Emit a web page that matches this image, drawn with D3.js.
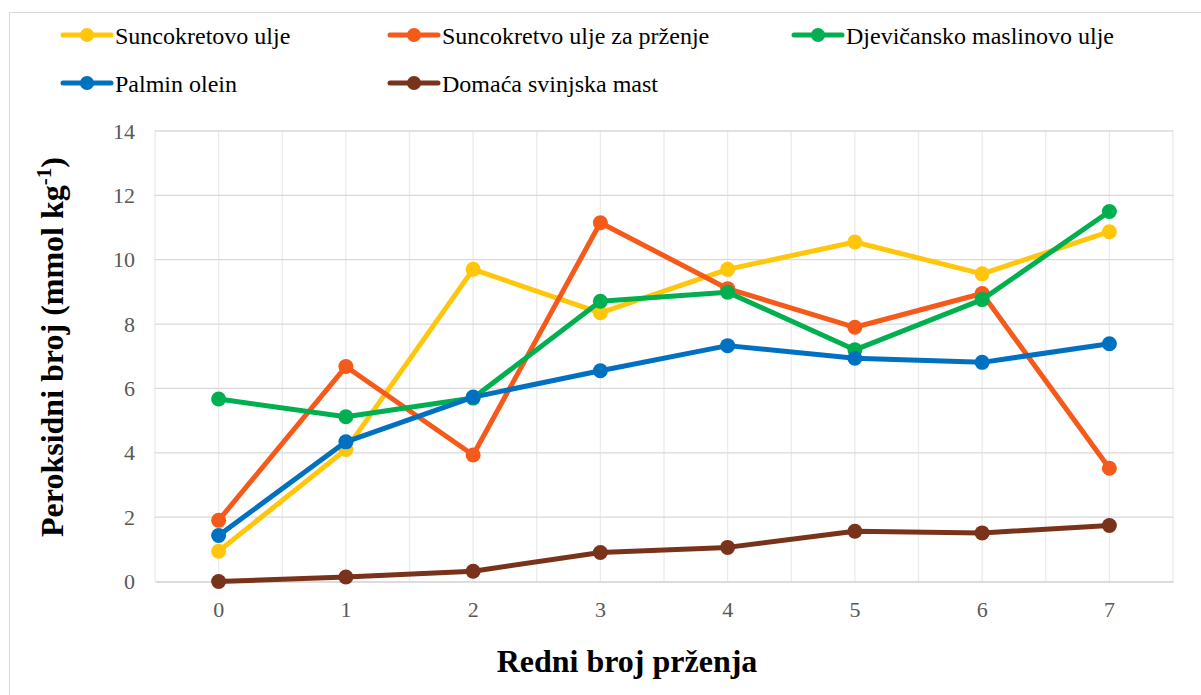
<!DOCTYPE html>
<html>
<head>
<meta charset="utf-8">
<script src="https://cdnjs.cloudflare.com/ajax/libs/d3/7.8.5/d3.min.js"></script>
<style>
  body { margin: 0; background: #fff; }
</style>
</head>
<body>
<svg width="1201" height="695"></svg>
<script>
const categories = [0, 1, 2, 3, 4, 5, 6, 7];
const yTicks = [0, 2, 4, 6, 8, 10, 12, 14];

const seriesNames = [
  "Suncokretovo ulje",
  "Suncokretvo ulje za prženje",
  "Djevičansko maslinovo ulje",
  "Palmin olein",
  "Domaća svinjska mast"
];
const seriesColors = ["#FFC60B", "#F55A1B", "#00B050", "#0070C0", "#78331A"];

const suncokretovo = [0.94, 4.1, 9.7, 8.35, 9.7, 10.55, 9.56, 10.87];
const suncokretovoPrzenje = [1.9, 6.68, 3.93, 11.15, 9.1, 7.9, 8.95, 3.52];
const maslinovo = [5.67, 5.12, 5.7, 8.71, 8.99, 7.2, 8.76, 11.5];
const palmin = [1.43, 4.34, 5.73, 6.55, 7.33, 6.94, 6.81, 7.39];
const mast = [0, 0.14, 0.32, 0.9, 1.06, 1.56, 1.51, 1.74];

const allSeries = [suncokretovo, suncokretovoPrzenje, maslinovo, palmin, mast];

const serif = "'Liberation Serif', 'Times New Roman', serif";
const svg = d3.select("svg");

const plot = { left: 155, right: 1173, top: 131, bottom: 581.5 };

// outer frame
svg.append("rect")
  .attr("x", 9.5).attr("y", 12.5)
  .attr("width", 1250).attr("height", 720)
  .attr("fill", "none")
  .attr("stroke", "#d9d9d9")
  .attr("stroke-width", 1);

const x = d3.scaleBand()
  .domain(categories)
  .range([plot.left, plot.right]);

const y = d3.scaleLinear()
  .domain([0, 14])
  .range([plot.bottom, plot.top]);

const cx = (i) => x(categories[i]) + x.bandwidth() / 2;

// vertical gridlines at band edges and centres
const vLines = [];
categories.forEach((c) => {
  vLines.push(x(c));
  vLines.push(x(c) + x.bandwidth() / 2);
});
vLines.push(plot.right);

svg.append("g")
  .selectAll("line")
  .data(vLines)
  .join("line")
    .attr("x1", (d) => d).attr("x2", (d) => d)
    .attr("y1", plot.top).attr("y2", plot.bottom)
    .attr("stroke", "#ebebeb")
    .attr("stroke-width", 1.3);

// horizontal gridlines
svg.append("g")
  .selectAll("line")
  .data(yTicks.filter((d) => d > 0))
  .join("line")
    .attr("x1", plot.left).attr("x2", plot.right)
    .attr("y1", (d) => y(d)).attr("y2", (d) => y(d))
    .attr("stroke", "#d9d9d9")
    .attr("stroke-width", 1.3);

// axes
const yAxis = svg.append("g")
  .attr("transform", `translate(${plot.left},0)`)
  .call(d3.axisLeft(y).tickValues(yTicks).tickSize(0).tickPadding(20));
yAxis.select(".domain").remove();
yAxis.selectAll("text")
  .style("font-family", serif)
  .style("font-size", "22px")
  .attr("fill", "#595959");

const xAxis = svg.append("g")
  .attr("transform", `translate(0,${plot.bottom})`)
  .call(d3.axisBottom(x).tickSize(0).tickPadding(20));
xAxis.select(".domain")
  .attr("stroke", "#d0d0d0")
  .attr("stroke-width", 1.5);
xAxis.selectAll("text")
  .style("font-family", serif)
  .style("font-size", "22px")
  .attr("fill", "#595959");

// axis titles
svg.append("text")
  .attr("x", 627).attr("y", 672)
  .attr("text-anchor", "middle")
  .style("font-family", serif)
  .style("font-size", "32px")
  .style("font-weight", "bold")
  .text("Redni broj prženja");

const yTitle = svg.append("text")
  .attr("transform", "translate(63,347) rotate(-90)")
  .attr("text-anchor", "middle")
  .style("font-family", serif)
  .style("font-size", "32px")
  .style("font-weight", "bold");
yTitle.append("tspan").text("Peroksidni broj (mmol kg");
yTitle.append("tspan").style("font-size", "21px").attr("dy", -12).text("-1");
yTitle.append("tspan").attr("dy", 12).text(")");

// lines and markers
const line = d3.line()
  .x((d, i) => cx(i))
  .y((d) => y(d));

allSeries.forEach((values, s) => {
  const g = svg.append("g");
  g.append("path")
    .datum(values)
    .attr("d", line)
    .attr("fill", "none")
    .attr("stroke", seriesColors[s])
    .attr("stroke-width", 5)
    .attr("stroke-linejoin", "round");
  g.selectAll("circle")
    .data(values)
    .join("circle")
      .attr("cx", (d, i) => cx(i))
      .attr("cy", (d) => y(d))
      .attr("r", 7.5)
      .attr("fill", seriesColors[s]);
});

// legend
const legendPos = [
  [63, 35], [390, 35], [794, 35],
  [63, 83], [390, 83]
];
seriesNames.forEach((name, s) => {
  const [lx, ly] = legendPos[s];
  const g = svg.append("g").attr("transform", `translate(${lx},${ly})`);
  g.append("line")
    .attr("x1", 0).attr("x2", 48)
    .attr("y1", 0).attr("y2", 0)
    .attr("stroke", seriesColors[s])
    .attr("stroke-width", 5)
    .attr("stroke-linecap", "round");
  g.append("circle")
    .attr("cx", 24).attr("cy", 0).attr("r", 7)
    .attr("fill", seriesColors[s]);
  g.append("text")
    .attr("x", 52).attr("y", 9)
    .style("font-family", serif)
    .style("font-size", "24px")
    .attr("fill", "#000")
    .text(name);
});
</script>
</body>
</html>
